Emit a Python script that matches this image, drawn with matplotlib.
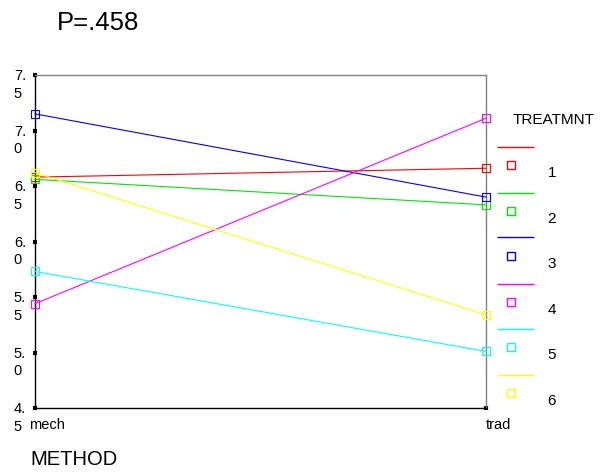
import matplotlib
matplotlib.use("Agg")
import matplotlib.pyplot as plt
from matplotlib.lines import Line2D
from matplotlib.transforms import ScaledTranslation

plt.rcParams['font.family'] = ['Liberation Sans', 'DejaVu Sans']

# ---- data ----
methods = ["mech", "trad"]
treatments = ["1", "2", "3", "4", "5", "6"]
values = {
    "1": [6.58, 6.66],
    "2": [6.56, 6.33],
    "3": [7.15, 6.40],
    "4": [5.44, 7.11],
    "5": [5.73, 5.01],
    "6": [6.62, 5.34],
}
colors = ["#ff0000", "#00e600", "#0000ff", "#ff00ff", "#00ffff", "#ffff00"]
yticks = [4.5, 5.0, 5.5, 6.0, 6.5, 7.0, 7.5]
ytick_labels = ["4.\n5", "5.\n0", "5.\n5", "6.\n0", "6.\n5", "7.\n0", "7.\n5"]
title_text = "P=.458"
xlabel_text = "METHOD"
legend_title = "TREATMNT"

W, H = 600, 473
fig = plt.figure(figsize=(W / 100, H / 100), dpi=100)
ax = fig.add_axes([35 / W, 1 - 408 / H, 451 / W, 333 / H])

x = list(range(len(methods)))
for t, c in zip(treatments, colors):
    ax.plot(x, values[t], color=c, lw=0.8, marker="s", ms=6, mfc="none",
            mec=c, mew=0.8, clip_on=False, zorder=3)

ax.set_xlim(0, 1)
ax.set_ylim(4.5, 7.5)
ax.set_xticks(x)
ax.set_xticklabels(methods, fontsize=10.5)
ax.set_yticks(yticks)
ax.set_yticklabels(ytick_labels, fontsize=10.5, ha="right", va="center",
                   multialignment="left", linespacing=1.3)

for side in ["top", "right"]:
    ax.spines[side].set_color("#808080")
    ax.spines[side].set_linewidth(1.0)
for side in ["left", "bottom"]:
    ax.spines[side].set_color("black")
    ax.spines[side].set_linewidth(1.0)

ax.tick_params(axis="both", direction="inout", length=3, width=3, color="black")
ax.tick_params(axis="y", pad=5)
ax.tick_params(axis="x", pad=6)

for lbl in ax.get_xticklabels():
    lbl.set_transform(lbl.get_transform() + ScaledTranslation(12 / 100, 0, fig.dpi_scale_trans))
for lbl in ax.get_yticklabels():
    lbl.set_transform(lbl.get_transform() + ScaledTranslation(0, -10 / 100, fig.dpi_scale_trans))

fig.text(57 / W, 1 - 29.5 / H, title_text, fontsize=18.5, va="baseline", ha="left")
fig.text(30 / W, 1 - 465 / H, xlabel_text, fontsize=14.5, va="baseline", ha="left")

# legend (drawn manually: line above marker, label to the right)
fig.text(513 / W, 1 - 120 / H, legend_title, fontsize=11, va="center", ha="left")
line_y0, step = 146.5, 45.4
for i, (t, c) in enumerate(zip(treatments, colors)):
    ly = round(line_y0 + i * step) + 0.5
    fig.add_artist(Line2D([497 / W, 534 / W], [1 - ly / H, 1 - ly / H],
                          color=c, lw=1.0, solid_capstyle="butt",
                          transform=fig.transFigure))
    my = ly + 18.5
    fig.add_artist(Line2D([511 / W], [1 - my / H], marker="s", ms=6, mfc="none",
                          mec=c, mew=1.0, transform=fig.transFigure))
    fig.text(552 / W, 1 - (ly + 26.5) / H, t, fontsize=11, va="center", ha="center")

fig.savefig("out.png", dpi=100)
